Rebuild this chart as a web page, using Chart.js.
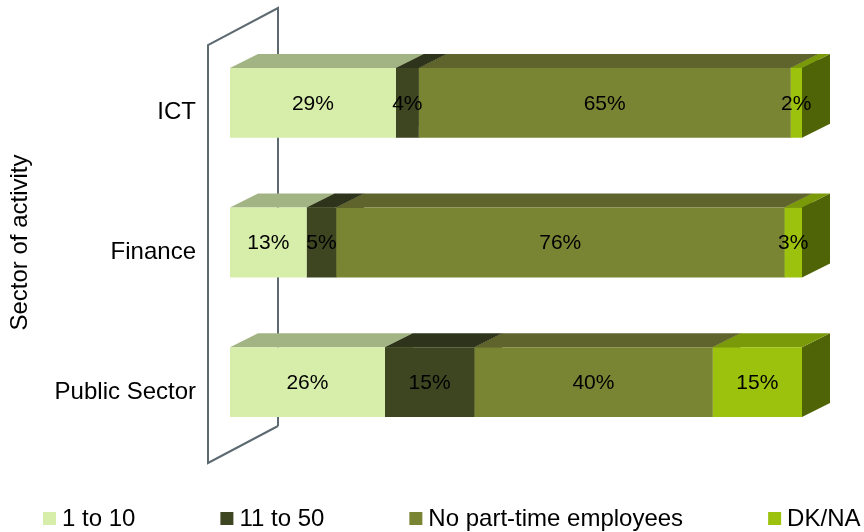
<!DOCTYPE html>
<html>
<head>
<meta charset="utf-8">
<script src="https://cdn.jsdelivr.net/npm/chart.js@4.4.1/dist/chart.umd.min.js"></script>
<style>
html, body { margin: 0; padding: 0; background: #fff; }
</style>
</head>
<body>
<canvas id="myChart" width="864" height="532"></canvas>
<script>
// values as printed on the bars (%)
const sectors = ['ICT', 'Finance', 'Public Sector'];
const seriesNames = ['1 to 10', '11 to 50', 'No part-time employees', 'DK/NA'];
const oneToTen = [29, 13, 26];
const elevenToFifty = [4, 5, 15];
const noPartTime = [65, 76, 40];
const dkNa = [2, 3, 15];
const axisTitle = 'Sector of activity';

const allValues = [oneToTen, elevenToFifty, noPartTime, dkNa];
const frontColors = ['#D7EEAA', '#3D4621', '#7A8534', '#9DC20D'];
const topColors = ['#A2B484', '#2E331B', '#5F642D', '#7B9A0A'];
const sideColors = ['#8FA070', '#262A14', '#4E5523', '#4F6406'];

const FONT = '"Liberation Sans", Arial, sans-serif';
const DX = 28, DY = -14; // depth of the 3d bars

// the chart is a 100% stack, so every row is scaled to its own total
const totals = sectors.map((_, i) => allValues.reduce((s, arr) => s + arr[i], 0));

const datasets = allValues.map((arr, di) => ({
    label: seriesNames[di],
    data: arr.map((v, i) => v / totals[i] * 100),
    backgroundColor: frontColors[di],
    borderWidth: 0,
    categoryPercentage: 1,
    barPercentage: 0.5
}));

const bars3d = {
    id: 'bars3d',
    beforeDatasetsDraw(chart) {
        const { ctx, chartArea } = chart;
        // back wall outline
        const x0 = chartArea.left - 22, x1 = x0 + 70;
        const yTop = chartArea.top + 12, yBot = chartArea.bottom + 11;
        ctx.save();
        ctx.strokeStyle = '#5D6A72';
        ctx.lineWidth = 2;
        ctx.beginPath();
        ctx.moveTo(x1, yBot - 37);
        ctx.lineTo(x0, yBot);
        ctx.lineTo(x0, yTop);
        ctx.lineTo(x1, yTop - 37);
        ctx.lineTo(x1, yBot - 37);
        ctx.stroke();

        // top and side faces, front faces are drawn by chart.js afterwards
        chart.data.datasets.forEach((ds, di) => {
            chart.getDatasetMeta(di).data.forEach(bar => {
                const l = bar.base, r = bar.x;
                const t = bar.y - bar.height / 2, b = bar.y + bar.height / 2;
                ctx.fillStyle = sideColors[di];
                ctx.beginPath();
                ctx.moveTo(r, t);
                ctx.lineTo(r + DX, t + DY);
                ctx.lineTo(r + DX, b + DY);
                ctx.lineTo(r, b);
                ctx.closePath();
                ctx.fill();
                ctx.fillStyle = topColors[di];
                ctx.beginPath();
                ctx.moveTo(l, t);
                ctx.lineTo(l + DX, t + DY);
                ctx.lineTo(r + DX, t + DY);
                ctx.lineTo(r, t);
                ctx.closePath();
                ctx.fill();
            });
        });
        ctx.restore();
    },
    afterDatasetsDraw(chart) {
        const { ctx } = chart;
        ctx.save();
        ctx.font = '21px ' + FONT;
        ctx.fillStyle = '#000';
        ctx.textAlign = 'center';
        ctx.textBaseline = 'middle';
        chart.data.datasets.forEach((ds, di) => {
            chart.getDatasetMeta(di).data.forEach((bar, i) => {
                ctx.fillText(allValues[di][i] + '%', (bar.x + bar.base) / 2, bar.y + 1);
            });
        });
        ctx.restore();
    },
    afterDraw(chart) {
        // legend along the bottom
        const { ctx } = chart;
        ctx.save();
        ctx.font = '24px ' + FONT;
        ctx.textBaseline = 'middle';
        ctx.textAlign = 'left';
        let x = 43;
        const y = 519;
        seriesNames.forEach((name, i) => {
            ctx.fillStyle = frontColors[i];
            ctx.fillRect(x, y - 7, 13, 13);
            ctx.fillStyle = '#000';
            ctx.fillText(name, x + 19, y);
            x += 19 + ctx.measureText(name).width + 85;
        });
        ctx.restore();
    }
};

const ctx = document.getElementById('myChart').getContext('2d');
const myChart = new Chart(ctx, {
    type: 'bar',
    data: { labels: sectors, datasets: datasets },
    options: {
        indexAxis: 'y',
        responsive: false,
        animation: false,
        layout: { padding: { left: 0, right: 62, top: 33, bottom: 80 } },
        plugins: {
            legend: { display: false },
            tooltip: { enabled: false }
        },
        scales: {
            x: { stacked: true, min: 0, max: 100, display: false },
            y: {
                stacked: true,
                grid: { display: false, drawTicks: true, tickLength: 30 },
                border: { display: false },
                ticks: { color: '#000', font: { family: FONT, size: 24 }, padding: 4, labelOffset: 10 },
                title: {
                    display: true,
                    text: axisTitle,
                    color: '#000',
                    font: { family: FONT, size: 24 },
                    padding: { top: 6, bottom: 0 }
                },
                afterFit(scale) { scale.width = 230; }
            }
        }
    },
    plugins: [bars3d]
});
</script>
</body>
</html>
